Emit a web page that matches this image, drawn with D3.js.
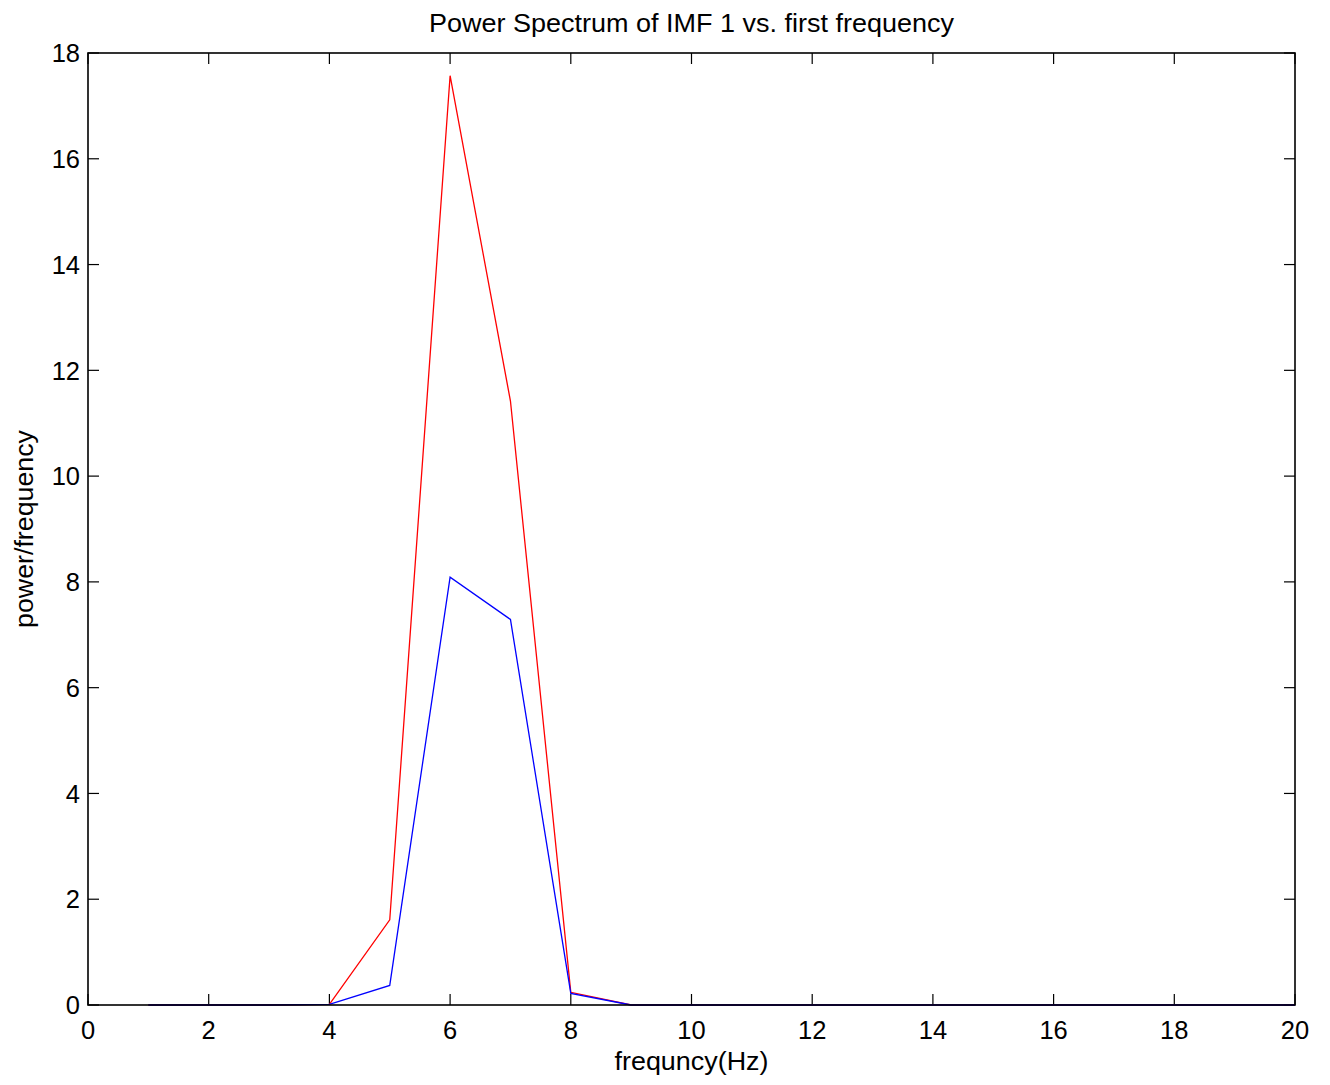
<!DOCTYPE html>
<html><head><meta charset="utf-8">
<script src="https://cdn.jsdelivr.net/npm/d3@7"></script>
<style>body{margin:0;background:#fff}svg{display:block}text{font-family:"Liberation Sans",Arial,sans-serif;fill:#000}</style>
</head><body>
<script>
const freq = [1,2,3,4,5,6,7,8,9,10,11,12,13,14,15,16,17,18,19,20];
const redSeries = [0,0,0,0.01,1.61,17.57,11.42,0.24,0,0,0,0,0,0,0,0,0,0,0,0];
const blueSeries = [0,0,0,0.01,0.37,8.09,7.29,0.22,0,0,0,0,0,0,0,0,0,0,0,0];
const xTicks = [0,2,4,6,8,10,12,14,16,18,20];
const yTicks = [0,2,4,6,8,10,12,14,16,18];
const title = "Power Spectrum of IMF 1 vs. first frequency";
const xLabel = "frequncy(Hz)";
const yLabel = "power/frequency";

const W=1330,H=1085, L=88,R=1295,T=53,B=1005;
const svg=d3.select("body").append("svg").attr("width",W).attr("height",H);
const x=d3.scaleLinear().domain([0,20]).range([L,R]);
const y=d3.scaleLinear().domain([0,18]).range([B,T]);
const tl=11;
const g=svg.append("g");
xTicks.forEach(t=>{
  g.append("line").attr("x1",x(t)).attr("x2",x(t)).attr("y1",B).attr("y2",B-tl).attr("stroke","#000").attr("stroke-width",1.2);
  g.append("line").attr("x1",x(t)).attr("x2",x(t)).attr("y1",T).attr("y2",T+tl).attr("stroke","#000").attr("stroke-width",1.2);
  g.append("text").attr("x",x(t)).attr("y",B+34).attr("text-anchor","middle").attr("font-size",25.5).text(t);
});
yTicks.forEach(t=>{
  g.append("line").attr("x1",L).attr("x2",L+tl).attr("y1",y(t)).attr("y2",y(t)).attr("stroke","#000").attr("stroke-width",1.2);
  g.append("line").attr("x1",R).attr("x2",R-tl).attr("y1",y(t)).attr("y2",y(t)).attr("stroke","#000").attr("stroke-width",1.2);
  g.append("text").attr("x",L-8).attr("y",y(t)).attr("dy","0.36em").attr("text-anchor","end").attr("font-size",25.5).text(t);
});
const line=d3.line().x((d,i)=>x(freq[i])).y(d=>y(d));
svg.append("path").datum(redSeries).attr("d",line).attr("fill","none").attr("stroke","#ff0000").attr("stroke-width",1.3);
svg.append("path").datum(blueSeries).attr("d",line).attr("fill","none").attr("stroke","#0000ff").attr("stroke-width",1.3);
svg.append("rect").attr("x",L).attr("y",T).attr("width",R-L).attr("height",B-T).attr("fill","none").attr("stroke","#000").attr("stroke-width",1.6);
svg.append("text").attr("x",(L+R)/2).attr("y",32).attr("text-anchor","middle").attr("font-size",25.5)
  .attr("textLength",525).attr("lengthAdjust","spacingAndGlyphs").text(title);
svg.append("text").attr("x",(L+R)/2).attr("y",1070).attr("text-anchor","middle").attr("font-size",25.5)
  .attr("textLength",154).attr("lengthAdjust","spacingAndGlyphs").text(xLabel);
svg.append("text").attr("transform",`translate(33,${529}) rotate(-90)`).attr("text-anchor","middle").attr("font-size",25.5)
  .attr("textLength",198).attr("lengthAdjust","spacingAndGlyphs").text(yLabel);
</script>
</body></html>
